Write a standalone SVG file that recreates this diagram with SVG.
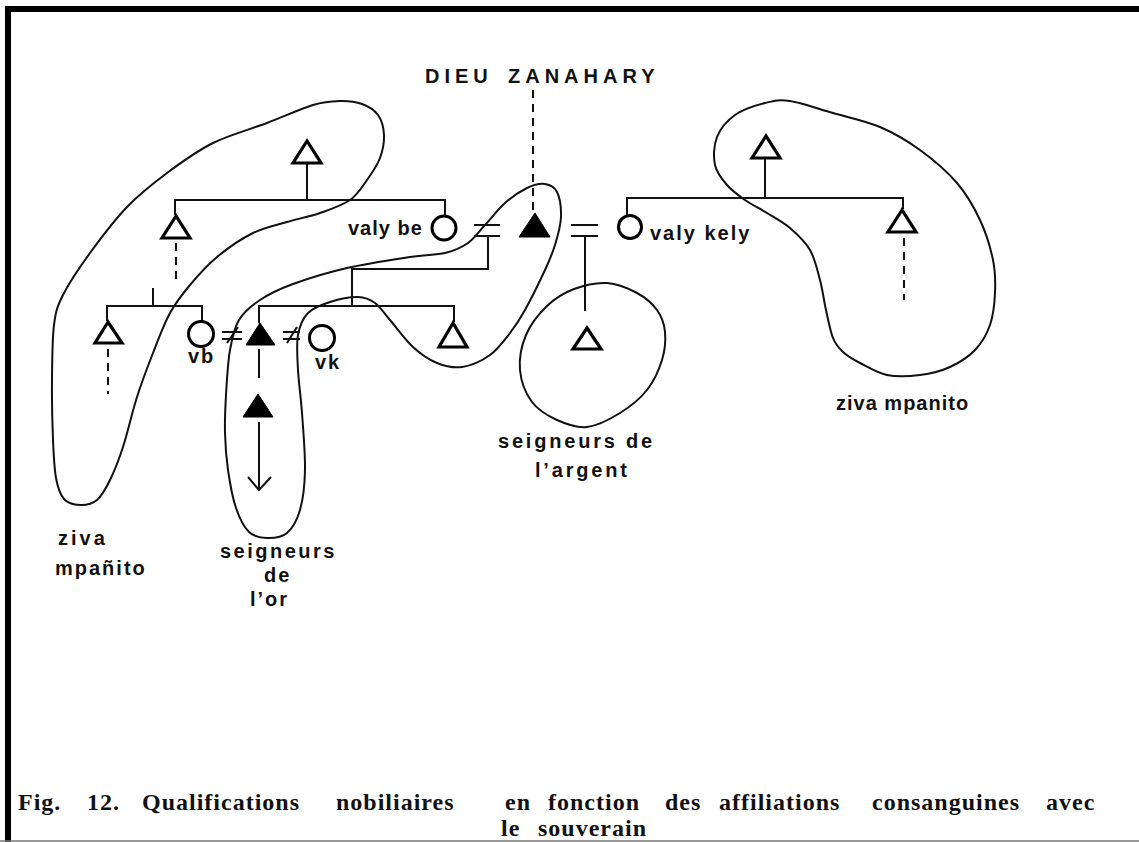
<svg xmlns="http://www.w3.org/2000/svg" width="1139" height="842" viewBox="0 0 1139 842">
  <style>
    .frame { stroke: #000; stroke-width: 6; fill: none; }
    .ln { stroke: #111; stroke-width: 2; fill: none; }
    .dash { stroke: #111; stroke-width: 2; fill: none; stroke-dasharray: 8 6; }
    .zone { stroke: #111; stroke-width: 2; fill: none; stroke-linejoin: round; }
    .tri { stroke: #000; stroke-width: 3.2; fill: #fff; stroke-linejoin: miter; }
    .tri-f { stroke: #000; stroke-width: 1; fill: #000; }
    .fem { stroke: #000; stroke-width: 3; fill: #fff; }
    .lbl { font-family: "Liberation Sans", Arial, sans-serif; font-weight: bold; font-size: 20px; letter-spacing: 2px; fill: #111; }
    .god { font-family: "Liberation Sans", Arial, sans-serif; font-weight: bold; font-size: 20px; letter-spacing: 5px; fill: #111; }
    .cap { font-family: "Liberation Serif", "Times New Roman", serif; font-weight: bold; font-size: 24px; letter-spacing: 1px; fill: #111; }
  </style>

  <rect width="1139" height="842" fill="#fff"/>

  <!-- page frame -->
  <g id="frame">
    <line class="frame" x1="5" y1="9" x2="1139" y2="9"/>
    <line class="frame" x1="8" y1="6" x2="8" y2="842"/>
    <line x1="0" y1="841" x2="1139" y2="841" stroke="#777" stroke-width="1.5"/>
  </g>

  <!-- hand-drawn groupings -->
  <g id="zones">
    <path id="zone-ziva-left" class="zone" d="M80,505 C74.5,504.8 68,503.5 64,499 C60,494.5 57.8,487.8 56,478 C54.2,468.2 53.7,456.3 53,440 C52.3,423.7 51.8,399.2 52,380 C52.2,360.8 52.2,339.2 54,325 C55.8,310.8 57,307 63,295 C69,283 79.3,267.7 90,253 C100.7,238.3 114.2,220.3 127,207 C139.8,193.7 152.7,183.7 167,173 C181.3,162.3 196.3,151.3 213,143 C229.7,134.7 250.3,129.3 267,123 C283.7,116.7 300.8,108.7 313,105 C325.2,101.3 331.8,101.2 340,101 C348.2,100.8 355.7,101.7 362,104 C368.3,106.3 374.3,109.8 378,115 C381.7,120.2 383.7,127.8 384,135 C384.3,142.2 382.8,150.5 380,158 C377.2,165.5 372,173 367,180 C362,187 357.8,194.5 350,200 C342.2,205.5 330.5,209.3 320,213 C309.5,216.7 298.2,218.7 287,222 C275.8,225.3 264.7,227.2 253,233 C241.3,238.8 227.5,248.3 217,257 C206.5,265.7 197.8,275.7 190,285 C182.2,294.3 176.2,301.7 170,313 C163.8,324.3 158.5,339 153,353 C147.5,367 142,381.3 137,397 C132,412.7 127.5,433.2 123,447 C118.5,460.8 114.3,471.2 110,480 C105.7,488.8 102,495.8 97,500 C92,504.2 85.5,505.2 80,505 Z"/>
    <path id="zone-or" class="zone" d="M267,538 C260.7,537.8 254.2,537 249,532 C243.8,527 239.5,518.3 236,508 C232.5,497.7 229.8,482.5 228,470 C226.2,457.5 225.3,445.5 225,433 C224.7,420.5 225.2,408.8 226,395 C226.8,381.2 227.8,362.5 230,350 C232.2,337.5 234,328.3 239,320 C244,311.7 251,306 260,300 C269,294 278.5,289.3 293,284 C307.5,278.7 327.5,272.5 347,268 C366.5,263.5 393.7,259.5 410,257 C426.3,254.5 435.3,255.3 445,253 C454.7,250.7 461.3,247.7 468,243 C474.7,238.3 478.8,231.7 485,225 C491.2,218.3 498,209.2 505,203 C512,196.8 520.3,191.2 527,188 C533.7,184.8 540,183.3 545,184 C550,184.7 554.3,186.5 557,192 C559.7,197.5 561.3,208.2 561,217 C560.7,225.8 557.7,236.2 555,245 C552.3,253.8 550,259.2 545,270 C540,280.8 530.8,299.5 525,310 C519.2,320.5 515.8,325.5 510,333 C504.2,340.5 498,349.3 490,355 C482,360.7 470.8,365.7 462,367 C453.2,368.3 445.2,366.3 437,363 C428.8,359.7 420.8,354.2 413,347 C405.2,339.8 396.3,327.3 390,320 C383.7,312.7 380.3,306.8 375,303 C369.7,299.2 365.5,297.2 358,297 C350.5,296.8 338.3,299.3 330,302 C321.7,304.7 313.3,307.5 308,313 C302.7,318.5 299.7,325.5 298,335 C296.3,344.5 297.3,357 298,370 C298.7,383 300.8,396.3 302,413 C303.2,429.7 305.3,453.8 305,470 C304.7,486.2 303,499.5 300,510 C297,520.5 292.5,528.3 287,533 C281.5,537.7 273.3,538.2 267,538 Z"/>
    <path id="zone-argent" class="zone" d="M607,283 C617.5,283.7 628.7,288.5 637,293 C645.3,297.5 652.3,303.5 657,310 C661.7,316.5 664.2,323.7 665,332 C665.8,340.3 665,350.3 662,360 C659,369.7 654,381.2 647,390 C640,398.8 630,406.8 620,413 C610,419.2 597.5,425.8 587,427 C576.5,428.2 566.2,424.2 557,420 C547.8,415.8 538.2,410.3 532,402 C525.8,393.7 521,381.2 520,370 C519,358.8 521.5,345.7 526,335 C530.5,324.3 539,313.7 547,306 C555,298.3 564,292.8 574,289 C584,285.2 596.5,282.3 607,283 Z"/>
    <path id="zone-ziva-right" class="zone" d="M790,101 C801.3,102.7 818,108.7 833,113 C848,117.3 865.5,120.8 880,127 C894.5,133.2 907.2,140.7 920,150 C932.8,159.3 947,171.3 957,183 C967,194.7 974,207.2 980,220 C986,232.8 990.5,247.8 993,260 C995.5,272.2 995.5,282.2 995,293 C994.5,303.8 993.3,315.5 990,325 C986.7,334.5 981.7,343 975,350 C968.3,357 959.2,362.8 950,367 C940.8,371.2 930.5,373.7 920,375 C909.5,376.3 897,377 887,375 C877,373 867.3,366.8 860,363 C852.7,359.2 847.5,356.2 843,352 C838.5,347.8 835.8,345 833,338 C830.2,331 828.2,319.7 826,310 C823.8,300.3 822.7,290 820,280 C817.3,270 815,258.7 810,250 C805,241.3 797.2,234.2 790,228 C782.8,221.8 774.5,217.7 767,213 C759.5,208.3 751.7,204.7 745,200 C738.3,195.3 732,190.8 727,185 C722,179.2 716.7,173 715,165 C713.3,157 713.7,145.3 717,137 C720.3,128.7 727,120.7 735,115 C743,109.3 755.8,105.3 765,103 C774.2,100.7 778.7,99.3 790,101 Z"/>
  </g>

  <!-- kinship lines -->
  <g id="connectors">
    <!-- left sibling set -->
    <line class="ln" x1="307" y1="163" x2="307" y2="200"/>
    <line class="ln" x1="175" y1="200" x2="445" y2="200"/>
    <line class="ln" x1="175" y1="199" x2="175" y2="215"/>
    <line class="ln" x1="445" y1="199" x2="445" y2="216"/>
    <line class="dash" x1="176" y1="243" x2="176" y2="280"/>
    <!-- children of the left brother -->
    <line class="ln" x1="153" y1="288" x2="153" y2="306"/>
    <line class="ln" x1="107" y1="306" x2="202" y2="306"/>
    <line class="ln" x1="107" y1="305" x2="107" y2="321"/>
    <line class="ln" x1="202" y1="305" x2="202" y2="321"/>
    <line class="dash" x1="108" y1="349" x2="108" y2="394"/>
    <!-- marriage valy be = sovereign -->
    <line class="ln" x1="474" y1="225" x2="500" y2="225"/>
    <line class="ln" x1="474" y1="236" x2="500" y2="236"/>
    <line class="ln" x1="488" y1="236" x2="488" y2="269"/>
    <line class="ln" x1="352" y1="269" x2="489" y2="269"/>
    <line class="ln" x1="352" y1="268" x2="352" y2="306"/>
    <line class="ln" x1="259" y1="306" x2="454" y2="306"/>
    <line class="ln" x1="259" y1="305" x2="259" y2="323"/>
    <line class="ln" x1="454" y1="305" x2="454" y2="322"/>
    <!-- forbidden unions -->
    <line class="ln" x1="222" y1="332" x2="242" y2="332"/>
    <line class="ln" x1="222" y1="339" x2="242" y2="339"/>
    <line class="ln" x1="227" y1="343" x2="238" y2="327"/>
    <line class="ln" x1="283" y1="332" x2="300" y2="332"/>
    <line class="ln" x1="283" y1="339" x2="300" y2="339"/>
    <line class="ln" x1="287" y1="343" x2="297" y2="327"/>
    <!-- line of the lords of gold -->
    <line class="ln" x1="259" y1="349" x2="259" y2="378"/>
    <line class="ln" x1="259" y1="422" x2="259" y2="490"/>
    <polyline class="ln" points="248,477 259,490 271,477"/>
    <!-- divine descent -->
    <line class="dash" x1="533" y1="90" x2="533" y2="212"/>
    <!-- marriage sovereign = valy kely -->
    <line class="ln" x1="571" y1="225" x2="598" y2="225"/>
    <line class="ln" x1="571" y1="236" x2="598" y2="236"/>
    <line class="ln" x1="585" y1="236" x2="585" y2="311"/>
    <!-- right sibling set -->
    <line class="ln" x1="627" y1="198" x2="903" y2="198"/>
    <line class="ln" x1="627" y1="197" x2="627" y2="216"/>
    <line class="ln" x1="765" y1="158" x2="765" y2="198"/>
    <line class="ln" x1="903" y1="197" x2="903" y2="209"/>
    <line class="dash" x1="904" y1="238" x2="904" y2="300"/>
  </g>

  <!-- individuals -->
  <g id="n-ancestor-left"><polygon class="tri" points="307,141 293,163 321,163"/></g>
  <g id="n-brother-left"><polygon class="tri" points="176,216 162,238 190,238"/></g>
  <g id="n-valy-be"><circle class="fem" cx="444" cy="228" r="12"/></g>
  <g id="n-nephew"><polygon class="tri" points="108,322 95,343 122,343"/></g>
  <g id="n-vb"><circle class="fem" cx="201" cy="334" r="12.5"/></g>
  <g id="n-heir"><polygon class="tri-f" points="260,323 246,345 275,345"/></g>
  <g id="n-vk"><circle class="fem" cx="322" cy="338" r="12.5"/></g>
  <g id="n-heir-brother"><polygon class="tri" points="453,323 439,347 467,347"/></g>
  <g id="n-heir-son"><polygon class="tri-f" points="258,394 243,417 273,417"/></g>
  <g id="n-sovereign"><polygon class="tri-f" points="535,213 519,237 550,237"/></g>
  <g id="n-argent"><polygon class="tri" points="587,328 573,349 601,349"/></g>
  <g id="n-valy-kely"><circle class="fem" cx="630" cy="227" r="11.5"/></g>
  <g id="n-ancestor-right"><polygon class="tri" points="766,136 752,158 780,158"/></g>
  <g id="n-brother-right"><polygon class="tri" points="902,210 888,232 916,232"/></g>

  <!-- labels -->
  <g id="labels">
    <text class="god" y="83"><tspan x="425">DIEU</tspan><tspan x="508">ZANAHARY</tspan></text>
    <text class="lbl" x="348" y="235" style="letter-spacing:1px">valy be</text>
    <text class="lbl" x="650" y="240">valy kely</text>
    <text class="lbl" x="188" y="363">vb</text>
    <text class="lbl" x="315" y="369">vk</text>
    <text class="lbl" x="498" y="448" style="letter-spacing:2.8px">seigneurs de</text>
    <text class="lbl" x="535" y="477" style="letter-spacing:2.8px">l’argent</text>
    <text class="lbl" x="836" y="410" style="letter-spacing:1px">ziva mpanito</text>
    <text class="lbl" x="58" y="545" style="letter-spacing:3px">ziva</text>
    <text class="lbl" x="55" y="575">mpañito</text>
    <text class="lbl" x="220" y="558" style="letter-spacing:2.5px">seigneurs</text>
    <text class="lbl" x="264" y="582">de</text>
    <text class="lbl" x="250" y="606">l’or</text>
  </g>

  <!-- caption -->
  <g id="caption">
    <text class="cap" y="810"><tspan x="18">Fig.</tspan><tspan x="87">12.</tspan><tspan x="142">Qualifications</tspan><tspan x="336">nobiliaires</tspan><tspan x="505">en</tspan><tspan x="548">fonction</tspan><tspan x="665">des</tspan><tspan x="719">affiliations</tspan><tspan x="872">consanguines</tspan><tspan x="1046">avec</tspan></text>
    <text class="cap" y="836"><tspan x="501">le</tspan><tspan x="538">souverain</tspan></text>
  </g>
</svg>
